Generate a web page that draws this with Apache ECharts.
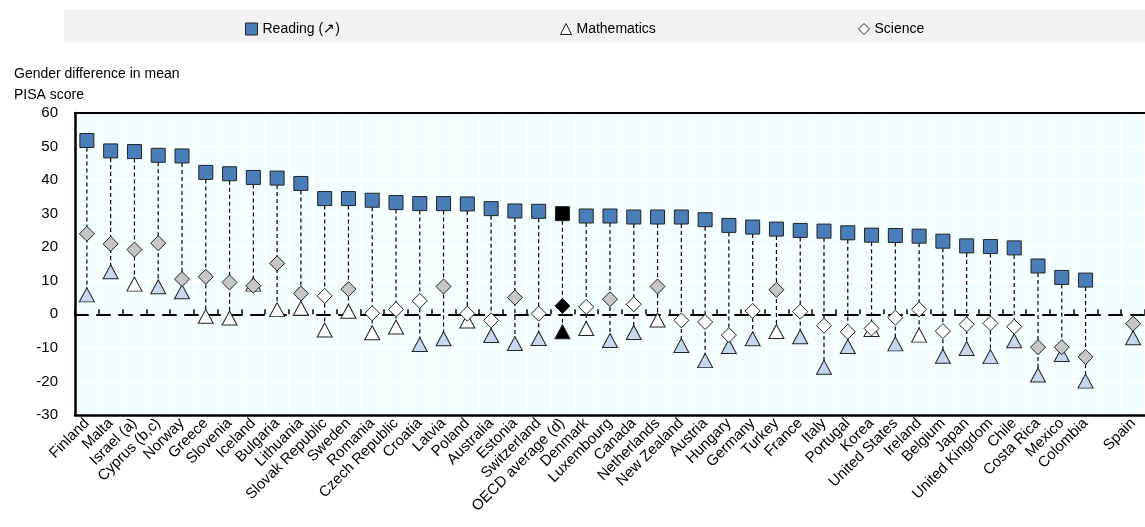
<!DOCTYPE html>
<html>
<head>
<meta charset="utf-8">
<script src="https://cdn.jsdelivr.net/npm/echarts@6/dist/echarts.min.js"></script>
<style>
html,body{margin:0;padding:0;background:#fff;}
#chart{width:1145px;height:527px;}
</style>
</head>
<body>
<div id="chart"></div>
<script>
const categories = ['Finland','Malta','Israel (a)','Cyprus (b,c)','Norway','Greece','Slovenia','Iceland','Bulgaria','Lithuania','Slovak Republic','Sweden','Romania','Czech Republic','Croatia','Latvia','Poland','Australia','Estonia','Switzerland','OECD average (d)','Denmark','Luxembourg','Canada','Netherlands','New Zealand','Austria','Hungary','Germany','Turkey','France','Italy','Portugal','Korea','United States','Ireland','Belgium','Japan','United Kingdom','Chile','Costa Rica','Mexico','Colombia','','Spain'];
const reading = [51.8,48.7,48.5,47.4,47.2,42.3,41.9,40.8,40.6,39.0,34.5,34.5,34.0,33.3,33.0,33.0,32.9,31.5,30.8,30.7,30.0,29.3,29.3,29.0,29.0,29.0,28.2,26.5,26.0,25.4,25.0,24.8,24.3,23.6,23.5,23.3,21.8,20.4,20.2,19.8,14.4,11.0,10.2,null,null];
const mathematics = [5.8,12.7,9.0,8.2,6.7,-0.6,-1.1,9.0,1.4,1.8,-4.7,0.9,-5.5,-3.8,-9.0,-7.3,-2.0,-6.3,-8.7,-7.2,-5.2,-4.2,-7.8,-5.4,-1.7,-9.3,-13.8,-9.6,-7.3,-5.1,-6.7,-15.8,-9.6,-4.5,-8.8,-6.2,-12.5,-10.2,-12.6,-7.9,-18.1,-12.0,-19.9,null,-7.0];
const science = [24.0,21.0,19.3,21.2,10.5,11.2,9.5,8.5,15.2,6.2,5.5,7.5,0.3,1.5,4.0,8.3,0.2,-1.8,5.0,0.2,2.5,2.2,4.5,3.0,8.3,-1.8,-2.3,-6.2,1.0,7.3,0.8,-3.4,-5.2,-4.2,-1.0,1.5,-5.0,-3.0,-2.7,-3.7,-9.8,-9.8,-12.7,null,-2.8];
// 1 = statistically significant difference, 0 = not significant
const mathSig = [1,1,0,1,1,0,0,0,0,0,0,0,0,0,1,1,0,1,1,1,1,0,1,1,0,1,1,1,1,0,1,1,1,0,1,0,1,1,1,1,1,1,1,0,1];
const sciSig  = [1,1,1,1,1,1,1,1,1,1,0,1,0,0,0,1,0,0,1,0,1,0,1,0,1,0,0,0,0,1,0,0,0,0,0,0,0,0,0,0,1,1,1,0,1];
const avgName = 'OECD average (d)';
const yTicks = [-30,-20,-10,0,10,20,30,40,50,60];

const BLUE = '#4a7ebb', LBLUE = '#c5d8ef', GRAY = '#c6c6c6', WHITE = '#ffffff', BLACK = '#000000';
const isAvg = i => categories[i] === avgName;

function pts(vals, colorFn) {
  return vals.map((v, i) => ({
    value: v,
    itemStyle: { color: isAvg(i) ? BLACK : colorFn(i) }
  }));
}

const rangeData = categories.map((c, i) => {
  const vs = [reading[i], mathematics[i], science[i]].filter(v => v !== null && v !== undefined);
  if (!vs.length) return [i, null, null];
  return [i, Math.max(...vs), Math.min(...vs)];
});

const chart = echarts.init(document.getElementById('chart'), null, {renderer: 'canvas'});
const FONT = '"Liberation Sans", Arial, sans-serif';

chart.setOption({
  animation: false,
  textStyle: { fontFamily: FONT },
  title: {
    text: 'Gender difference in mean\nPISA score',
    left: 9, top: 59,
    textStyle: { fontSize: 14, fontWeight: 'normal', color: '#000', lineHeight: 21, fontFamily: FONT }
  },
  graphic: [{
    type: 'rect', left: 64, top: 10, silent: true, z: -10,
    shape: { width: 1081, height: 33 },
    style: { fill: '#f2f2f2' }
  }],
  legend: [
    { left: 240, top: 17, itemWidth: 12, itemHeight: 12, itemGap: 4,
      textStyle: { fontSize: 14, color: '#000', fontFamily: FONT },
      data: [{ name: 'Reading (↗)', icon: 'rect', itemStyle: { color: BLUE, borderColor: '#222', borderWidth: 1 } }] },
    { left: 555, top: 17, itemWidth: 11, itemHeight: 11, itemGap: 4,
      textStyle: { fontSize: 14, color: '#000', fontFamily: FONT },
      data: [{ name: 'Mathematics', icon: 'triangle', itemStyle: { color: WHITE, borderColor: '#222', borderWidth: 1 } }] },
    { left: 853, top: 17, itemWidth: 11, itemHeight: 11, itemGap: 4,
      textStyle: { fontSize: 14, color: '#000', fontFamily: FONT },
      data: [{ name: 'Science', icon: 'diamond', itemStyle: { color: WHITE, borderColor: '#222', borderWidth: 1 } }] }
  ],
  grid: {
    left: 75, right: 0, top: 113, bottom: 112,
    outerBoundsMode: 'none', containLabel: false,
    show: true, backgroundColor: '#f2fdfe', borderColor: '#000', borderWidth: 0
  },
  xAxis: [{
    type: 'category', data: categories, position: 'bottom',
    axisLine: { show: true, onZero: false, lineStyle: { color: '#000', width: 2.5 } },
    axisTick: { show: false },
    splitLine: { show: true, interval: 0, lineStyle: { color: '#ffffff', width: 1.5 } },
    axisLabel: { interval: 0, rotate: 45, fontSize: 15, color: '#000', margin: 6, fontFamily: FONT }
  }, {
    type: 'category', data: categories, position: 'bottom',
    axisLine: { show: true, onZero: true, onZeroAxisIndex: 0, lineStyle: { color: '#000', width: 2, type: [13, 9] } },
    axisTick: { show: true, interval: 0, inside: true, length: 5, lineStyle: { color: '#000', width: 1.5 } },
    axisLabel: { show: false },
    splitLine: { show: false }
  }, {
    type: 'category', data: categories, position: 'top',
    axisLine: { show: true, onZero: false, lineStyle: { color: '#000', width: 2 } },
    axisTick: { show: false },
    axisLabel: { show: false },
    splitLine: { show: false }
  }],
  yAxis: {
    type: 'value', min: -30, max: 60, interval: 10,
    axisLine: { show: true, lineStyle: { color: '#000', width: 2.5 } },
    axisTick: { show: false },
    splitLine: { show: true, lineStyle: { color: '#ffffff', width: 1.5 } },
    axisLabel: { fontSize: 15, color: '#000', margin: 17, fontFamily: FONT,
      formatter: v => yTicks.includes(v) ? String(v) : '' }
  },
  series: [
    {
      type: 'custom', name: 'range', silent: true, z: 1,
      data: rangeData,
      encode: { x: 0, y: [1, 2] },
      renderItem: (params, api) => {
        const hi = api.value(1), lo = api.value(2);
        if (hi === null || lo === null || isNaN(hi) || isNaN(lo)) return null;
        const p1 = api.coord([api.value(0), hi]);
        const p2 = api.coord([api.value(0), lo]);
        return { type: 'line', shape: { x1: p1[0], y1: p1[1], x2: p2[0], y2: p2[1] },
          style: { stroke: '#000', lineWidth: 1.2, lineDash: [4, 3] } };
      }
    },
    {
      type: 'scatter', name: 'Mathematics', z: 3, symbol: 'triangle', symbolSize: [15, 14],
      itemStyle: { color: WHITE, borderColor: '#222', borderWidth: 1, opacity: 1 },
      data: pts(mathematics, i => mathSig[i] ? LBLUE : WHITE)
    },
    {
      type: 'scatter', name: 'Science', z: 4, symbol: 'diamond', symbolSize: 15,
      itemStyle: { color: WHITE, borderColor: '#222', borderWidth: 1, opacity: 1 },
      data: pts(science, i => sciSig[i] ? GRAY : WHITE)
    },
    {
      type: 'scatter', name: 'Reading (↗)', z: 5, symbol: 'rect', symbolSize: 14,
      itemStyle: { color: BLUE, borderColor: '#222', borderWidth: 1, opacity: 1 },
      data: pts(reading, i => BLUE)
    }
  ]
});
</script>
</body>
</html>
